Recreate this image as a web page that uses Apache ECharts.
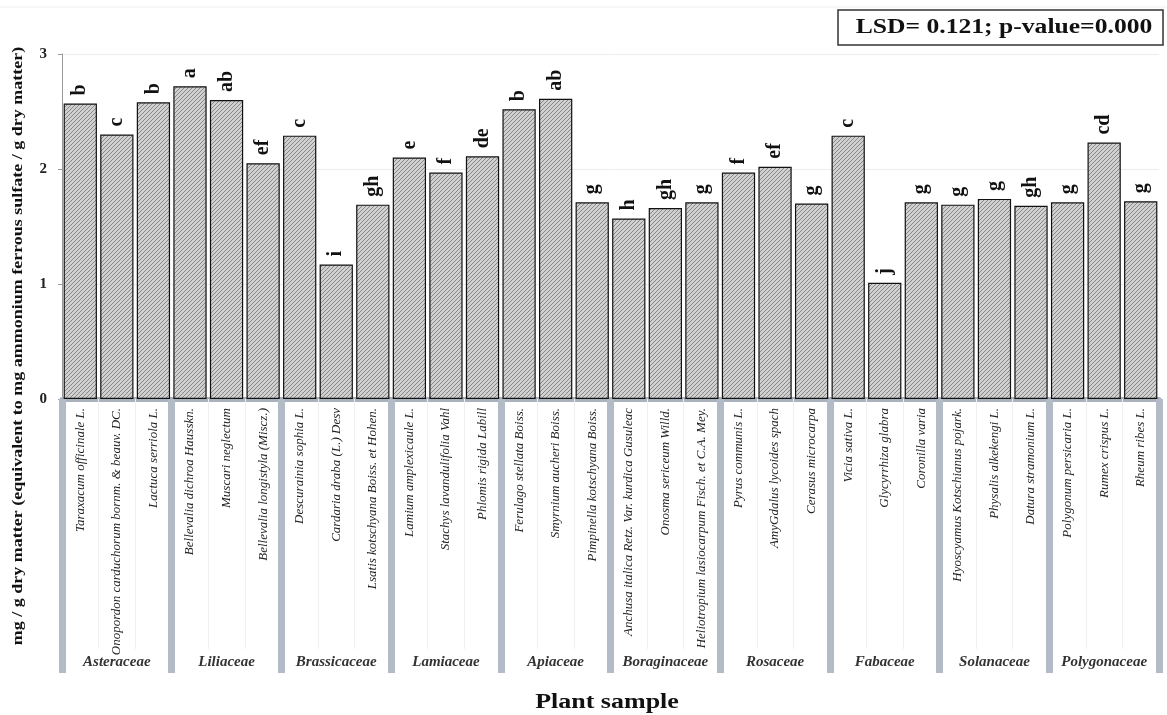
<!DOCTYPE html>
<html>
<head>
<meta charset="utf-8">
<script src="https://cdn.jsdelivr.net/npm/echarts@6/dist/echarts.min.js"></script>
<style>
  html, body { margin: 0; padding: 0; background: #fff; }
  #chart { width: 1167px; height: 715px; }
</style>
</head>
<body>
<div id="chart"></div>
<script>
// Plant samples, in plotting order
const samples = [
  'Taraxacum officinale L.',
  'Onopordon carduchorum bornm. & beauv. DC.',
  'Lactuca serriola L.',
  'Bellevalia dichroa Hausskn.',
  'Muscari neglectum',
  'Bellevalia longistyla (Miscz.)',
  'Descurainia sophia L.',
  'Cardaria draba (L.) Desv',
  'Lsatis kotschyana Boiss. et Hohen.',
  'Lamium amplexicaule L.',
  'Stachys lavandulifolia Vahl',
  'Phlomis rigida Labill',
  'Ferulago stellata Boiss.',
  'Smyrnium aucheri Boiss.',
  'Pimpinella kotschyana Boiss.',
  'Anchusa italica Retz. Var. kurdica Gusuleac',
  'Onosma sericeum Willd.',
  'Heliotropium lasiocarpum Fisch. et C.A. Mey.',
  'Pyrus communis L.',
  'AmyGdalus lycoides spach',
  'Cerasus microcarpa',
  'Vicia sativa L.',
  'Glycyrrhiza glabra',
  'Coronilla varia',
  'Hyoscyamus Kotschianus pojark.',
  'Physalis alkekengi L.',
  'Datura stramonium L.',
  'Polygonum persicaria L.',
  'Rumex crispus L.',
  'Rheum ribes L.'
];

// Plant families, three samples each
const families = [
  'Asteraceae', 'Liliaceae', 'Brassicaceae', 'Lamiaceae', 'Apiaceae',
  'Boraginaceae', 'Rosaceae', 'Fabaceae', 'Solanaceae', 'Polygonaceae'
];

// Antioxidant capacity, mg / g dry matter
const values = [
  2.57, 2.30, 2.58, 2.72, 2.60, 2.05, 2.29, 1.17, 1.69, 2.10,
  1.97, 2.11, 2.52, 2.61, 1.71, 1.57, 1.66, 1.71, 1.97, 2.02,
  1.70, 2.29, 1.01, 1.71, 1.69, 1.74, 1.68, 1.71, 2.23, 1.72
];

// Duncan grouping letters
const letters = [
  'b', 'c', 'b', 'a', 'ab', 'ef', 'c', 'i', 'gh', 'e',
  'f', 'de', 'b', 'ab', 'g', 'h', 'gh', 'g', 'f', 'ef',
  'g', 'c', 'j', 'g', 'g', 'g', 'gh', 'g', 'cd', 'g'
];

const yTicks = { min: 0, max: 3, interval: 1 };

// Diagonal hatch fill for the bars
function hatch() {
  const c = document.createElement('canvas');
  c.width = 4; c.height = 4;
  const g = c.getContext('2d');
  g.fillStyle = '#d0d0d0';
  g.fillRect(0, 0, 4, 4);
  g.strokeStyle = '#888';
  g.lineWidth = 1;
  g.beginPath();
  g.moveTo(0, 4); g.lineTo(4, 0);
  g.moveTo(-1, 1); g.lineTo(1, -1);
  g.moveTo(3, 5); g.lineTo(5, 3);
  g.stroke();
  return c;
}

const serif = '"Liberation Serif", "Times New Roman", serif';
const chart = echarts.init(document.getElementById('chart'));

chart.setOption({
  animation: false,
  backgroundColor: '#fff',
  grid: { left: 62, right: 8, top: 54, bottom: 316, containLabel: false },
  xAxis: [
    {
      type: 'category',
      data: samples,
      axisLine: { show: true, lineStyle: { color: '#a9b1bd', width: 5 } },
      axisTick: { show: true, interval: 0, length: 250, lineStyle: { color: '#f0f0f0', width: 1 } },
      axisLabel: {
        interval: 0, rotate: 90, margin: 9,
        fontFamily: serif, fontStyle: 'italic', fontSize: 13, color: '#222'
      }
    },
    {
      type: 'category',
      data: families,
      position: 'bottom',
      axisLine: { show: false },
      axisTick: { show: true, interval: 0, length: 274, lineStyle: { color: '#b3bbc7', width: 7 } },
      axisLabel: {
        interval: 0, margin: 256,
        fontFamily: serif, fontStyle: 'italic', fontWeight: 'bold', fontSize: 15, color: '#333'
      }
    }
  ],
  yAxis: {
    type: 'value',
    min: yTicks.min, max: yTicks.max, interval: yTicks.interval,
    axisLine: { show: true, lineStyle: { color: '#999', width: 1 } },
    axisTick: { show: true, length: 4, lineStyle: { color: '#999' } },
    splitLine: { show: true, lineStyle: { color: '#ececec', width: 1 } },
    axisLabel: { margin: 15, fontFamily: serif, fontWeight: 'bold', fontSize: 15, color: '#222' }
  },
  series: [{
    type: 'bar',
    xAxisIndex: 0,
    data: values,
    barCategoryGap: '9%',
    itemStyle: {
      color: { image: hatch(), repeat: 'repeat' },
      borderColor: '#111',
      borderWidth: 1.2
    },
    label: {
      show: true,
      position: 'top',
      rotate: 90,
      align: 'left',
      verticalAlign: 'middle',
      distance: 8,
      fontFamily: serif,
      fontWeight: 'bold',
      fontSize: 20,
      color: '#111',
      formatter: p => letters[p.dataIndex]
    }
  }],
  graphic: [
    {
      type: 'line',
      shape: { x1: 0, y1: 7, x2: 1167, y2: 7 },
      style: { stroke: '#eeeeee', lineWidth: 1 }
    },
    {
      type: 'rect',
      shape: { x: 838, y: 10, width: 325, height: 35 },
      style: { fill: '#fff', stroke: '#333', lineWidth: 1.5 }
    },
    {
      type: 'text',
      x: 1004, y: 28,
      scaleX: 1.28,
      style: {
        text: 'LSD= 0.121; p-value=0.000',
        font: 'bold 20px ' + serif,
        fill: '#111',
        textAlign: 'center',
        textVerticalAlign: 'middle'
      }
    },
    {
      type: 'text',
      x: 18, y: 346,
      rotation: Math.PI / 2,
      scaleX: 1.2,
      style: {
        text: 'mg / g dry matter (equivalent to mg ammonium ferrous sulfate / g dry matter)',
        font: 'bold 15px ' + serif,
        fill: '#111',
        textAlign: 'center',
        textVerticalAlign: 'middle'
      }
    },
    {
      type: 'text',
      x: 607, y: 703,
      scaleX: 1.3,
      style: {
        text: 'Plant sample',
        font: 'bold 20px ' + serif,
        fill: '#111',
        textAlign: 'center',
        textVerticalAlign: 'middle'
      }
    }
  ]
});
</script>
</body>
</html>
